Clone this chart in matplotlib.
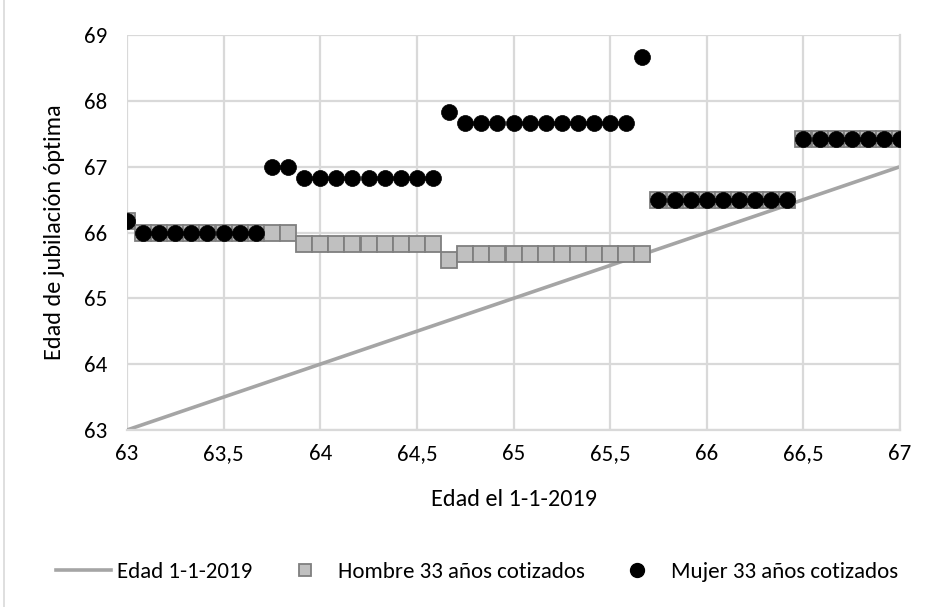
import numpy as np
import matplotlib
matplotlib.use("Agg")
import matplotlib.pyplot as plt
from matplotlib.lines import Line2D
from matplotlib import font_manager

# edad el 1-1-2019, mes a mes (años)
edad = [63 + m / 12 for m in range(49)]

# edad de jubilación óptima, hombre 33 años cotizados
hombre = ([66.17] + [66.0] * 10 + [65.83] * 9 + [65.58] + [65.67] * 12
          + [66.5] * 9 + [67.42] * 7)

# edad de jubilación óptima, mujer 33 años cotizados
mujer = ([66.17] + [66.0] * 8 + [67.0] * 2 + [66.83] * 9 + [67.83] + [67.67] * 11
         + [68.67] + [66.5] * 9 + [67.42] * 7)

xticks = [63, 63.5, 64, 64.5, 65, 65.5, 66, 66.5, 67]
yticks = [63, 64, 65, 66, 67, 68, 69]

names = {f.name for f in font_manager.fontManager.ttflist}
fams = [f for f in ['Carlito', 'Liberation Sans Narrow', 'Liberation Sans'] if f in names]
plt.rcParams['font.family'] = fams + ['DejaVu Sans']

fig = plt.figure(figsize=(9.35, 6.07), dpi=100)
ax = fig.add_axes([0.1358, 0.2916, 0.8268, 0.6507])

grid = '#D9D9D9'
ax.plot(edad, edad, color='#A5A5A5', lw=2.6, zorder=2, solid_capstyle='round')
ax.plot(edad, hombre, ls='none', marker='s', ms=11.5, mfc='#C0C0C0',
        mec='#7F7F7F', mew=1.3, zorder=3)
ax.plot(edad, mujer, ls='none', marker='o', ms=11.5, mfc='black',
        mec='black', mew=0.5, zorder=4)

ax.set_xlim(63, 67)
ax.set_ylim(63, 69)
ax.set_xticks(xticks)
ax.set_yticks(yticks)
ax.set_xticklabels([str(v).replace('.', ',') if v % 1 else str(int(v)) for v in xticks])
ax.grid(True, color=grid, lw=1.6)
ax.set_axisbelow(True)
for s in ['top', 'left']:
    ax.spines[s].set_visible(False)
ax.spines['right'].set_color(grid)
ax.spines['right'].set_linewidth(1.6)
ax.spines['bottom'].set_color(grid)
ax.spines['bottom'].set_linewidth(1.6)
ax.tick_params(length=0, labelsize=16.5, pad=10)
ax.tick_params(axis='y', pad=14)

ax.set_xlabel('Edad el 1-1-2019', fontsize=17.5, labelpad=18)
ax.set_ylabel('Edad de jubilación óptima', fontsize=17.5, labelpad=14)

handles = [
    Line2D([], [], color='#A5A5A5', lw=2.6),
    Line2D([], [], ls='none', marker='s', ms=8, mfc='#C0C0C0', mec='#7F7F7F', mew=1.3),
    Line2D([], [], ls='none', marker='o', ms=10, mfc='black', mec='black'),
]
fig.legend(handles, ['Edad 1-1-2019', 'Hombre 33 años cotizados', 'Mujer 33 años cotizados'],
           loc='center', bbox_to_anchor=(0.51, 0.058), ncol=3, frameon=False,
           fontsize=16.5, handlelength=2.4, handletextpad=0.25, columnspacing=1.1)

# borde izquierdo del gráfico
fig.add_artist(Line2D([0.004, 0.004], [0, 1], color=grid, lw=1.2))

fig.savefig('out.png', dpi=100)
